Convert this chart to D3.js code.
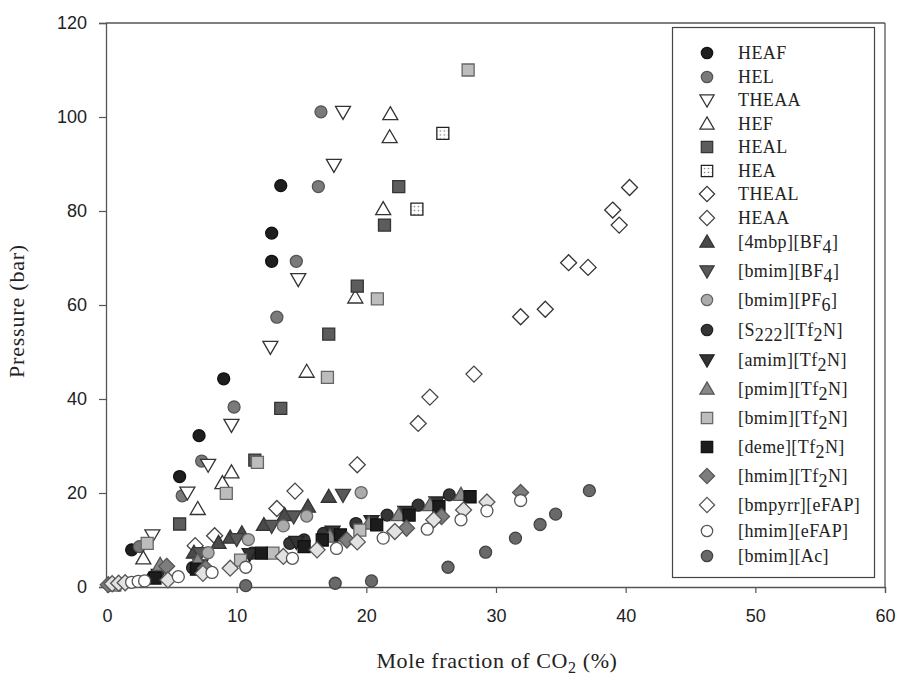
<!DOCTYPE html>
<html>
<head>
<meta charset="utf-8">
<script src="https://cdn.jsdelivr.net/npm/d3@7"></script>
<style>
  html, body { margin: 0; padding: 0; background: #fff; }
  svg { display: block; }
</style>
</head>
<body>
<svg id="chart" width="899" height="678"></svg>
<script>
// Pressure vs. CO2 mole fraction for a set of ionic liquids.
const xTicks = [0, 10, 20, 30, 40, 50, 60];
const yTicks = [0, 20, 40, 60, 80, 100, 120];

// [mole fraction %, pressure bar]
const heaf = [[1.9,7.9],[5.6,23.5],[7.1,32.2],[9.0,44.3],[12.7,69.3],[12.7,75.3],[13.4,85.4]];
const hel = [[2.5,8.6],[5.8,19.4],[7.3,26.8],[9.8,38.3],[13.1,57.4],[14.6,69.3],[16.3,85.2],[16.5,101.1]];
const theaa = [[3.5,11.0],[6.2,20.1],[7.8,26.0],[9.6,34.5],[12.6,51.1],[14.75,65.5],[17.5,89.8],[18.2,101.1]];
const hef = [[2.8,6.1],[7.0,16.6],[8.9,22.1],[9.6,24.4],[15.4,45.8],[19.15,61.6],[21.3,80.4],[21.8,95.7],[21.85,100.6]];
const heal = [[5.6,13.4],[11.4,27.0],[13.4,38.0],[17.1,53.8],[19.3,64.0],[21.4,77.0],[22.5,85.2]];
const hea = [[23.9,80.4],[25.9,96.5]];
const theal = [[31.9,57.5],[33.8,59.1],[35.6,69.0],[37.1,68.0],[39.0,80.2],[39.5,77.0],[40.3,85.0]];
const heaa = [[6.8,8.8],[8.3,10.9],[13.1,16.7],[14.5,20.4],[19.3,26.0],[24.0,34.8],[24.9,40.4],[28.3,45.3]];
const mbpBF4 = [[6.7,7.3],[8.6,9.4],[9.5,10.5],[10.4,11.4],[12.1,13.2],[13.7,15.3],[15.5,17.1],[17.1,19.2]];
const bmimBF4 = [[7.2,7.2],[10.0,10.2],[12.7,13.0],[14.4,15.0],[18.2,19.6]];
const bmimPF6 = [[7.8,7.3],[10.9,10.1],[13.6,13.0],[15.4,15.1],[19.6,20.1]];
const s222Tf2N = [[3.55,2.2],[6.6,4.1],[11.2,7.2],[14.1,9.3],[15.2,10.0],[16.7,11.4],[19.2,13.5],[21.6,15.3],[24.0,17.4],[26.4,19.6]];
const amimTf2N = [[4.0,2.6],[7.2,4.6],[11.0,7.0],[14.6,9.6],[17.4,11.8],[20.4,14.0],[23.0,16.0],[25.4,18.0]];
const pmimTf2N = [[4.1,4.7],[7.0,5.6],[17.2,10.7],[20.2,13.5],[22.5,15.3],[24.9,17.4],[27.3,19.6]];
const bmimTf2N = [[0.6,0.4],[3.1,9.3],[9.2,19.9],[10.3,5.7],[11.6,26.5],[12.8,7.2],[17.0,44.6],[19.5,12.1],[20.85,61.3],[27.85,110.0]];
const demeTf2N = [[3.7,1.9],[6.9,3.8],[11.9,7.2],[15.2,8.6],[16.6,10.0],[18.0,11.1],[20.8,13.2],[23.3,15.3],[25.6,17.1],[28.0,19.2]];
const hmimTf2N = [[0.1,0.5],[4.6,4.4],[7.6,4.0],[18.5,10.0],[23.1,12.5],[25.8,15.0],[31.9,20.1]];
const bmpyrrEFAP = [[0.4,0.7],[0.9,0.8],[1.4,0.9],[4.7,1.5],[7.4,2.9],[9.5,4.0],[13.6,6.5],[16.2,7.9],[19.3,9.6],[22.2,11.8],[25.2,14.3],[27.5,16.4],[29.3,18.1]];
const hmimEFAP = [[1.9,1.0],[2.4,1.2],[2.9,1.3],[5.5,2.2],[8.1,3.1],[10.7,4.2],[14.3,6.1],[17.7,8.2],[21.3,10.4],[24.7,12.3],[27.3,14.3],[29.3,16.2],[31.9,18.4]];
const bmimAc = [[10.7,0.3],[17.6,0.8],[20.4,1.3],[26.3,4.2],[29.2,7.4],[31.5,10.4],[33.4,13.3],[34.6,15.5],[37.2,20.5]];

// legend label parts: [text, isSubscript]
const series = [
  { name: [["HEAF"]], data: heaf, shape: "circle", fill: "#1e1e1e", stroke: "#111" },
  { name: [["HEL"]], data: hel, shape: "circle", fill: "#7a7a7a", stroke: "#555" },
  { name: [["THEAA"]], data: theaa, shape: "down", fill: "#fff", stroke: "#333" },
  { name: [["HEF"]], data: hef, shape: "up", fill: "#fff", stroke: "#333" },
  { name: [["HEAL"]], data: heal, shape: "square", fill: "#5c5c5c", stroke: "#333" },
  { name: [["HEA"]], data: hea, shape: "square", fill: "url(#dots)", stroke: "#222" },
  { name: [["THEAL"]], data: theal, shape: "diamond", fill: "#fff", stroke: "#333" },
  { name: [["HEAA"]], data: heaa, shape: "diamond", fill: "#fff", stroke: "#444" },
  { name: [["[4mbp][BF"],["4",1],["]"]], data: mbpBF4, shape: "up", fill: "#4a4a4a", stroke: "#333" },
  { name: [["[bmim][BF"],["4",1],["]"]], data: bmimBF4, shape: "down", fill: "#595959", stroke: "#3a3a3a" },
  { name: [["[bmim][PF"],["6",1],["]"]], data: bmimPF6, shape: "circle", fill: "#ababab", stroke: "#666" },
  { name: [["[S"],["222",1],["][Tf"],["2",1],["N]"]], data: s222Tf2N, shape: "circle", fill: "#353535", stroke: "#222" },
  { name: [["[amim][Tf"],["2",1],["N]"]], data: amimTf2N, shape: "down", fill: "#333", stroke: "#222" },
  { name: [["[pmim][Tf"],["2",1],["N]"]], data: pmimTf2N, shape: "up", fill: "#888", stroke: "#555" },
  { name: [["[bmim][Tf"],["2",1],["N]"]], data: bmimTf2N, shape: "square", fill: "#bdbdbd", stroke: "#666" },
  { name: [["[deme][Tf"],["2",1],["N]"]], data: demeTf2N, shape: "square", fill: "#1c1c1c", stroke: "#111" },
  { name: [["[hmim][Tf"],["2",1],["N]"]], data: hmimTf2N, shape: "diamond", fill: "#7d7d7d", stroke: "#555" },
  { name: [["[bmpyrr][eFAP]"]], data: bmpyrrEFAP, shape: "diamond", fill: "#e2e2e2", stroke: "#555", legendFill: "#fff" },
  { name: [["[hmim][eFAP]"]], data: hmimEFAP, shape: "circle", fill: "#fff", stroke: "#555" },
  { name: [["[bmim][Ac]"]], data: bmimAc, shape: "circle", fill: "#696969", stroke: "#444" }
];
const legendY = [53, 77, 100, 124, 147, 171, 194, 218, 242, 271, 300, 330, 360, 389, 418, 447, 476, 505, 531, 556];

const svg = d3.select("#chart");
const x = d3.scaleLinear().domain([0, 60]).range([107, 885]);
const y = d3.scaleLinear().domain([0, 120]).range([587, 23]);

// dotted fill used for HEA squares
const defs = svg.append("defs");
const pat = defs.append("pattern").attr("id", "dots").attr("patternUnits", "userSpaceOnUse")
  .attr("width", 4).attr("height", 4);
pat.append("rect").attr("width", 4).attr("height", 4).attr("fill", "#fff");
pat.append("circle").attr("cx", 1.5).attr("cy", 1.5).attr("r", 0.8).attr("fill", "#777");

function shapePath(shape) {
  switch (shape) {
    case "circle": return "M6,0A6,6 0 1,1 -6,0A6,6 0 1,1 6,0Z";
    case "square": return "M-6,-6H6V6H-6Z";
    case "up": return "M0,-7.5L7.5,5.5L-7.5,5.5Z";
    case "down": return "M0,7.5L7.5,-5.5L-7.5,-5.5Z";
    case "diamond": return "M0,-8L8,0L0,8L-8,0Z";
  }
}

// axes
const axisColor = "#555";
const gx = svg.append("g").attr("transform", `translate(0,${y(0)})`)
  .call(d3.axisBottom(x).tickValues(xTicks).tickSize(6).tickPadding(16).tickFormat(d3.format("d")));
const gy = svg.append("g").attr("transform", `translate(${x(0) - 1},0)`)
  .call(d3.axisLeft(y).tickValues(yTicks).tickSize(7).tickPadding(12).tickFormat(d3.format("d")));
[gx, gy].forEach(g => {
  g.select(".domain").attr("stroke", axisColor).attr("stroke-width", 1.3);
  g.selectAll(".tick line").attr("stroke", axisColor).attr("stroke-width", 1.2);
  g.selectAll(".tick text").attr("fill", "#222")
    .style("font-family", "'Liberation Sans', Arial, sans-serif").style("font-size", "18px");
});
// frame on top and right
svg.append("line").attr("x1", x(0) - 1).attr("x2", x(60)).attr("y1", y(120)).attr("y2", y(120))
  .attr("stroke", axisColor).attr("stroke-width", 1.3);
svg.append("line").attr("x1", x(60)).attr("x2", x(60)).attr("y1", y(120)).attr("y2", y(0))
  .attr("stroke", axisColor).attr("stroke-width", 1.3);

// axis titles
const serif = "'Liberation Serif', 'Times New Roman', serif";
const xt = svg.append("text").attr("x", 497).attr("y", 668).attr("text-anchor", "middle")
  .style("font-family", serif).style("font-size", "22px").style("letter-spacing", "0.6px").attr("fill", "#222");
xt.append("tspan").text("Mole fraction of CO");
xt.append("tspan").attr("dy", 5).style("font-size", "16px").text("2");
xt.append("tspan").attr("dy", -5).text(" (%)");
svg.append("text").attr("transform", "translate(24,311) rotate(-90)").attr("text-anchor", "middle")
  .style("font-family", serif).style("font-size", "22px").style("letter-spacing", "0.8px")
  .attr("fill", "#222").text("Pressure (bar)");

// data points
const plot = svg.append("g");
series.forEach(s => {
  plot.selectAll(null).data(s.data).join("path")
    .attr("d", shapePath(s.shape))
    .attr("transform", d => `translate(${x(d[0])},${y(d[1])})`)
    .attr("fill", s.fill).attr("stroke", s.stroke).attr("stroke-width", 1.3);
});

// legend
const lg = svg.append("g");
lg.append("rect").attr("x", 672.5).attr("y", 27.5).attr("width", 202).attr("height", 550)
  .attr("fill", "#fff").attr("stroke", "#444").attr("stroke-width", 1.2);
series.forEach((s, i) => {
  const ly = legendY[i];
  lg.append("path").attr("d", shapePath(s.shape))
    .attr("transform", `translate(707,${ly}) scale(0.95)`)
    .attr("fill", s.legendFill || s.fill).attr("stroke", s.stroke).attr("stroke-width", 1.3);
  const t = lg.append("text").attr("x", 738).attr("y", ly + 6)
    .style("font-family", serif).style("font-size", "18px").style("letter-spacing", "0.4px").attr("fill", "#222");
  let shifted = false;
  s.name.forEach(([txt, sub]) => {
    const ts = t.append("tspan").text(txt);
    if (sub && !shifted) { ts.attr("dy", 5); shifted = true; }
    else if (!sub && shifted) { ts.attr("dy", -5); shifted = false; }
  });
});
</script>
</body>
</html>
